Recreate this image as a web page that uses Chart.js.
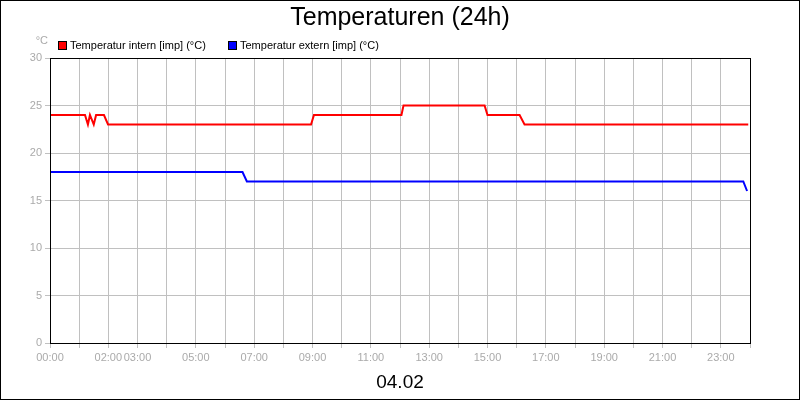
<!DOCTYPE html>
<html>
<head>
<meta charset="utf-8">
<script src="https://cdn.jsdelivr.net/npm/chart.js@4"></script>
<style>
  html, body { margin: 0; padding: 0; background: #fff; }
  #wrap { width: 798px; height: 398px; border: 1px solid #000; }
</style>
</head>
<body>
<div id="wrap"><canvas id="c" width="798" height="398"></canvas></div>
<script>
// hours since 00:00 and temperatures
const internHours = [0, 1.2, 1.3, 1.37, 1.5, 1.58, 1.85, 1.99, 8.95, 9.05, 12.05, 12.12, 14.9, 15.0, 16.1, 16.27, 23.94];
const internTemp  = [24, 24, 23, 24, 23, 24, 24, 23, 23, 24, 24, 25, 25, 24, 24, 23, 23];
const externHours = [0, 6.6, 6.75, 23.77, 23.9];
const externTemp  = [18, 18, 17, 17, 16];
const tickLabels = [0, 2, 3, 5, 7, 9, 11, 13, 15, 17, 19, 21, 23];

const toXY = (xs, ys) => xs.map((x, i) => ({ x, y: ys[i] }));
const fmt = h => String(h).padStart(2, '0') + ':00';
const FONT = '"Liberation Sans", Arial, sans-serif';

// title, legend, unit label and plot frame drawn around the chart area
const decorations = {
  id: 'decorations',
  afterDraw(chart) {
    const { ctx, chartArea } = chart;
    ctx.save();
    ctx.fillStyle = '#000';
    ctx.textAlign = 'center';
    ctx.textBaseline = 'middle';
    ctx.font = '25px ' + FONT;
    ctx.fillText('Temperaturen (24h)', 399, 17);

    ctx.font = '11px ' + FONT;
    ctx.textAlign = 'left';
    let x = 57;
    chart.data.datasets.forEach(ds => {
      ctx.fillStyle = '#000';
      ctx.fillRect(x, 40, 9, 9);
      ctx.fillStyle = ds.borderColor;
      ctx.fillRect(x + 1, 41, 7, 7);
      ctx.fillStyle = '#000';
      ctx.fillText(ds.label, x + 12, 45);
      x += 170;
    });

    ctx.fillStyle = '#aaa';
    ctx.textAlign = 'right';
    ctx.fillText('°C', chartArea.left - 2, chartArea.top - 17);
    ctx.strokeStyle = '#000';
    ctx.lineWidth = 1;
    ctx.strokeRect(chartArea.left + 0.5, chartArea.top + 0.5, chartArea.width, chartArea.height);
    ctx.restore();
  }
};

new Chart(document.getElementById('c'), {
  type: 'line',
  data: {
    datasets: [
      { label: 'Temperatur intern [imp] (°C)', data: toXY(internHours, internTemp),
        borderColor: '#ff0000', backgroundColor: '#ff0000', borderWidth: 2, pointRadius: 0, tension: 0 },
      { label: 'Temperatur extern [imp] (°C)', data: toXY(externHours, externTemp),
        borderColor: '#0000ff', backgroundColor: '#0000ff', borderWidth: 2, pointRadius: 0, tension: 0 }
    ]
  },
  options: {
    responsive: false,
    animation: false,
    layout: { padding: { left: 0, right: 49, top: 57, bottom: 1 } },
    plugins: {
      title: { display: false },
      legend: { display: false },
      tooltip: { enabled: false }
    },
    scales: {
      x: {
        type: 'linear', min: 0, max: 24,
        afterBuildTicks: axis => { axis.ticks = Array.from({ length: 25 }, (_, i) => ({ value: i })); },
        ticks: { autoSkip: false, maxRotation: 0, color: '#aaa', font: { family: FONT, size: 11 },
          callback: v => tickLabels.includes(v) ? fmt(v) : '' },
        grid: { color: '#c0c0c0', tickLength: 5 },
        border: { color: '#000' },
        title: { display: true, text: '04.02', color: '#000', font: { family: FONT, size: 19 }, padding: { top: 4 } }
      },
      y: {
        min: 0, max: 30,
        afterFit: axis => { axis.width = 49; },
        ticks: { stepSize: 5, color: '#aaa', font: { family: FONT, size: 11 } },
        grid: { color: '#c0c0c0', tickLength: 5 },
        border: { color: '#000' }
      }
    }
  },
  plugins: [decorations]
});
</script>
</body>
</html>
